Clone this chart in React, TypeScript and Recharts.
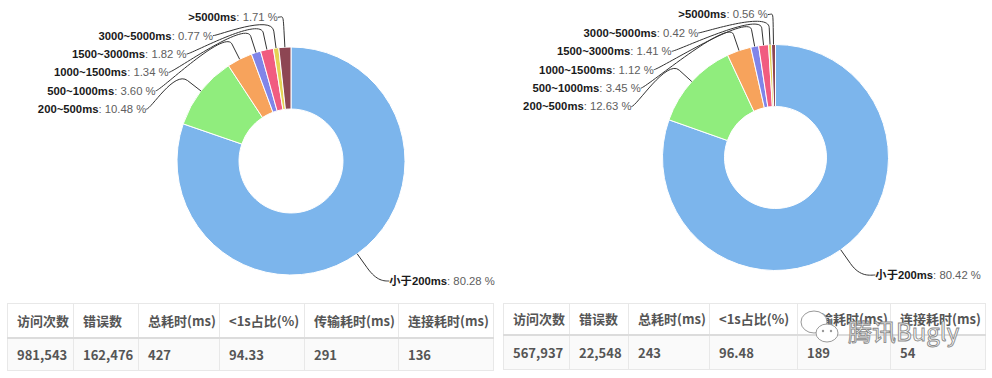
import React from 'react';
import { PieChart, Pie, Cell } from 'recharts';

const categories = ['小于200ms', '200~500ms', '500~1000ms', '1000~1500ms', '1500~3000ms', '3000~5000ms', '>5000ms'];
const leftShares = [80.28, 10.48, 3.6, 1.34, 1.82, 0.77, 1.71];
const rightShares = [80.42, 12.63, 3.45, 1.12, 1.41, 0.42, 0.56];
const colors = ['#7cb5ec', '#90ed7d', '#f7a35c', '#8085e9', '#f15c80', '#e4d354', '#8d4653'];

const tableHeaders = ['访问次数', '错误数', '总耗时(ms)', '<1s占比(%)', '传输耗时(ms)', '连接耗时(ms)'];
const leftRow = ['981,543', '162,476', '427', '94.33', '291', '136'];
const rightRow = ['567,937', '22,548', '243', '96.48', '189', '54'];

const RAD = Math.PI / 180;
const LABEL_GAP = 38; // label ring sits this far outside the donut
const LINE_H = 18.4; // min vertical spacing of stacked labels
const LABEL_FONT = "'Liberation Sans', Arial, 'Noto Sans CJK SC', sans-serif";

// highcharts-like labels: left side stacked down from the top, right side clamped to the bottom
function makeLabel(shares: number[], maxY: number) {
  const total = shares.reduce((a, b) => a + b, 0);
  let acc = 0;
  const mids = shares.map((v) => {
    const m = ((acc + v / 2) / total) * 360; // clockwise from 12 o'clock
    acc += v;
    return m;
  });

  return (props: any) => {
    const { cx, cy, outerRadius, midAngle, index } = props;
    const R = outerRadius + LABEL_GAP;
    const leftCy = cy + 8;
    const isLeft = Math.sin(mids[index] * RAD) < 0;

    let y: number;
    if (isLeft) {
      const natural = (i: number) => leftCy - R * Math.cos(mids[i] * RAD);
      const order = mids
        .map((_, i) => i)
        .filter((i) => Math.sin(mids[i] * RAD) < 0)
        .sort((a, b) => natural(a) - natural(b));
      let prev = leftCy - R - LINE_H;
      const ys: Record<number, number> = {};
      order.forEach((i) => {
        const v = Math.max(natural(i), prev + LINE_H);
        ys[i] = v;
        prev = v;
      });
      y = ys[index];
    } else {
      y = Math.min(cy - R * Math.cos(mids[index] * RAD), maxY);
    }

    const dy = y - (isLeft ? leftCy : cy);
    const half = Math.sqrt(Math.max(0, R * R - dy * dy));
    const xc = isLeft ? cx - half : cx + half;
    const tx = isLeft ? xc - 5 : xc + 5;

    const ca = Math.cos(-midAngle * RAD);
    const sa = Math.sin(-midAngle * RAD);
    const ex = cx + outerRadius * ca;
    const ey = cy + outerRadius * sa;
    const bx = cx + (outerRadius + 17) * ca;
    const by = cy + (outerRadius + 17) * sa;

    const d = `M${tx},${y} C${xc},${y} ${2 * bx - ex},${2 * by - ey} ${bx},${by} L${ex},${ey}`;

    return (
      <g>
        <path d={d} fill="none" stroke="#333" strokeWidth={1} />
        <text
          x={tx}
          y={y}
          dy="0.35em"
          textAnchor={isLeft ? 'end' : 'start'}
          fontSize={11.3}
          fontFamily={LABEL_FONT}
        >
          <tspan fontWeight="bold" fill="#1a1a1a">{categories[index]}</tspan>
          <tspan fill="#606060">: {shares[index].toFixed(2)} %</tspan>
        </text>
      </g>
    );
  };
}

function Donut({ shares, width, cx, cy, outer, inner, maxY }: any) {
  const data = categories.map((name, i) => ({ name, value: shares[i] }));
  return (
    <PieChart width={width} height={300} margin={{ top: 0, right: 0, bottom: 0, left: 0 }}>
      <Pie
        data={data}
        dataKey="value"
        nameKey="name"
        cx={cx}
        cy={cy}
        outerRadius={outer}
        innerRadius={inner}
        startAngle={90}
        endAngle={-270}
        stroke="#fff"
        strokeWidth={1}
        label={makeLabel(shares, maxY)}
        labelLine={false}
        isAnimationActive={false}
      >
        {data.map((_, i) => (
          <Cell key={i} fill={colors[i]} />
        ))}
      </Pie>
    </PieChart>
  );
}

function StatTable({ left, widths, row, headH, rowH }: any) {
  const total = widths.reduce((a: number, b: number) => a + b, 0);
  const cell: React.CSSProperties = {
    borderLeft: '1px solid #e8e8e8',
    borderRight: '1px solid #e8e8e8',
    textAlign: 'left',
    padding: '0 0 0 9px',
    fontWeight: 700,
    whiteSpace: 'nowrap',
    overflow: 'hidden',
  };
  return (
    <table
      style={{
        position: 'absolute',
        left,
        top: 303,
        width: total,
        borderCollapse: 'collapse',
        tableLayout: 'fixed',
        fontFamily: "'Noto Sans CJK SC', sans-serif",
        fontSize: 13,
        color: '#555',
      }}
    >
      <colgroup>
        {widths.map((w: number, i: number) => (
          <col key={i} style={{ width: w }} />
        ))}
      </colgroup>
      <tbody>
        <tr style={{ height: headH }}>
          {tableHeaders.map((h) => (
            <th key={h} style={{ ...cell, borderTop: '1px solid #e8e8e8', borderBottom: '2px solid #dcdcdc', background: '#fff' }}>
              {h}
            </th>
          ))}
        </tr>
        <tr style={{ height: rowH, background: '#fafafa' }}>
          {row.map((v: string, i: number) => (
            <td key={i} style={{ ...cell, borderBottom: '1px solid #e8e8e8' }}>
              {v}
            </td>
          ))}
        </tr>
      </tbody>
    </table>
  );
}

export default function App() {
  return (
    <div style={{ position: 'absolute', left: 0, top: 0, width: 992, height: 378, background: '#fff', overflow: 'hidden' }}>
      <div style={{ position: 'absolute', left: 0, top: 0 }}>
        <Donut shares={leftShares} width={500} cx={291} cy={161} outer={114} inner={52} maxY={281} />
      </div>
      <div style={{ position: 'absolute', left: 500, top: 0 }}>
        <Donut shares={rightShares} width={492} cx={275.5} cy={157.5} outer={113} inner={51} maxY={275} />
      </div>
      <StatTable left={7} widths={[66, 65, 81, 85, 94, 95]} row={leftRow} headH={34} rowH={33} />
      <StatTable left={503} widths={[66, 59, 81, 88, 93, 95]} row={rightRow} headH={31} rowH={35} />
      <svg style={{ position: 'absolute', left: 790, top: 300 }} width={200} height={60}>
        <ellipse cx={24} cy={22} rx={13} ry={11} fill="#fff" stroke="#999" strokeWidth={1} />
        <ellipse cx={37} cy={33} rx={11} ry={9} fill="#fff" stroke="#999" strokeWidth={1} />
        <circle cx={33} cy={31} r={1.2} fill="#999" />
        <circle cx={41} cy={31} r={1.2} fill="#999" />
        <text x={58} y={41} fontSize={24} fontFamily="'Noto Sans CJK SC', sans-serif" fill="#fff" stroke="#8a8a8a" strokeWidth={0.9}>
          腾讯Bugly
        </text>
      </svg>
    </div>
  );
}
